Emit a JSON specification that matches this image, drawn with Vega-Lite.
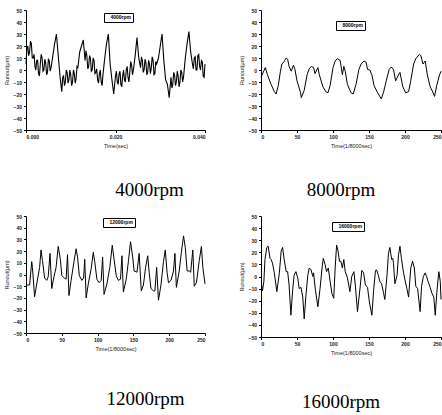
{
  "$schema": "https://vega.github.io/schema/vega-lite/v6.json",
  "background": "white",
  "padding": {"left": 4, "top": 8, "right": 2, "bottom": 2},
  "columns": 2,
  "spacing": {"row": 14, "column": 31},
  "config": {
    "view": {"stroke": null},
    "axis": {
      "labelFont": "Liberation Sans", "labelFontSize": 5, "labelFontWeight": "bold", "labelColor": "#222",
      "titleFont": "Liberation Sans", "titleFontSize": 5.5, "titleFontWeight": "normal", "titleColor": "#222",
      "domainColor": "black", "tickColor": "black", "tickSize": 2.5, "grid": false, "labelPadding": 2, "titlePadding": 4
    },
    "legend": {
      "orient": "none", "strokeColor": "black", "padding": 1.5, "labelFont": "Liberation Sans", "labelFontSize": 5,
      "labelFontWeight": "bold", "symbolSize": 0, "symbolStrokeWidth": 0, "symbolOpacity": 0, "labelOffset": 0, "title": null
    },
    "title": {"font": "Liberation Serif", "fontSize": 19, "fontWeight": "normal", "color": "black", "orient": "bottom", "offset": 32}
  },
  "resolve": {"scale": {"color": "independent", "x": "independent"}, "legend": {"color": "independent"}},
  "datasets": {
    "s4000": [
      {"t":0.0000,"r":5},{"t":0.0002,"r":18},{"t":0.0004,"r":20},{"t":0.0006,"r":12},{"t":0.0008,"r":15},
      {"t":0.0010,"r":24},{"t":0.0012,"r":22},{"t":0.0014,"r":10},{"t":0.0016,"r":10},{"t":0.0018,"r":13},
      {"t":0.0020,"r":3},{"t":0.0022,"r":0},{"t":0.0024,"r":8},{"t":0.0026,"r":8},{"t":0.0028,"r":-3},
      {"t":0.0030,"r":-5},{"t":0.0032,"r":5},{"t":0.0034,"r":13},{"t":0.0036,"r":10},{"t":0.0038,"r":-1},
      {"t":0.0040,"r":0},{"t":0.0042,"r":9},{"t":0.0044,"r":6},{"t":0.0046,"r":-4},{"t":0.0048,"r":-2},
      {"t":0.0050,"r":9},{"t":0.0052,"r":8},{"t":0.0054,"r":-1},{"t":0.0056,"r":2},{"t":0.0058,"r":7},
      {"t":0.0060,"r":12},{"t":0.0062,"r":17},{"t":0.0064,"r":22},{"t":0.0066,"r":26},{"t":0.0068,"r":30},
      {"t":0.0070,"r":21},{"t":0.0072,"r":12},{"t":0.0074,"r":3.5},{"t":0.0076,"r":-5},{"t":0.0078,"r":-12},
      {"t":0.0080,"r":-18},{"t":0.0082,"r":-6},{"t":0.0084,"r":-5},{"t":0.0086,"r":-13},{"t":0.0088,"r":-10},
      {"t":0.0090,"r":0},{"t":0.0092,"r":-2},{"t":0.0094,"r":-11},{"t":0.0096,"r":-8},{"t":0.0098,"r":0},
      {"t":0.0100,"r":-4},{"t":0.0102,"r":-13},{"t":0.0104,"r":-10},{"t":0.0106,"r":0},{"t":0.0108,"r":-3},
      {"t":0.0110,"r":-11},{"t":0.0112,"r":-7},{"t":0.0114,"r":3},{"t":0.0116,"r":2},{"t":0.0118,"r":8.5},
      {"t":0.0120,"r":15},{"t":0.0122,"r":17.5},{"t":0.0124,"r":20},{"t":0.0126,"r":22.5},{"t":0.0128,"r":25},
      {"t":0.0130,"r":16.5},{"t":0.0132,"r":8},{"t":0.0134,"r":16},{"t":0.0136,"r":12},{"t":0.0138,"r":1},
      {"t":0.0140,"r":3},{"t":0.0142,"r":12},{"t":0.0144,"r":10},{"t":0.0146,"r":-1},{"t":0.0148,"r":0},
      {"t":0.0150,"r":10},{"t":0.0152,"r":8},{"t":0.0154,"r":-3},{"t":0.0156,"r":-2},{"t":0.0158,"r":1},
      {"t":0.0160,"r":-8},{"t":0.0162,"r":-11},{"t":0.0164,"r":-3},{"t":0.0166,"r":0},{"t":0.0168,"r":-10},
      {"t":0.0170,"r":-13},{"t":0.0172,"r":-4},{"t":0.0174,"r":3},{"t":0.0176,"r":10},{"t":0.0178,"r":16},
      {"t":0.0180,"r":22},{"t":0.0182,"r":26},{"t":0.0184,"r":30},{"t":0.0186,"r":17.5},{"t":0.0188,"r":5},
      {"t":0.0190,"r":-1.5},{"t":0.0192,"r":-8},{"t":0.0194,"r":-14},{"t":0.0196,"r":-20},{"t":0.0198,"r":-12.5},
      {"t":0.0200,"r":-5},{"t":0.0202,"r":-1},{"t":0.0204,"r":-10},{"t":0.0206,"r":-12},{"t":0.0208,"r":-3},
      {"t":0.0210,"r":-1},{"t":0.0212,"r":-12},{"t":0.0214,"r":-14},{"t":0.0216,"r":-5},{"t":0.0218,"r":0},
      {"t":0.0220,"r":-8},{"t":0.0222,"r":-10},{"t":0.0224,"r":0},{"t":0.0226,"r":3},{"t":0.0228,"r":-6},
      {"t":0.0230,"r":-10},{"t":0.0232,"r":-2},{"t":0.0234,"r":7},{"t":0.0236,"r":4},{"t":0.0238,"r":-4},
      {"t":0.0240,"r":0},{"t":0.0242,"r":6},{"t":0.0244,"r":12},{"t":0.0246,"r":19.5},{"t":0.0248,"r":27},
      {"t":0.0250,"r":18.5},{"t":0.0252,"r":10},{"t":0.0254,"r":6},{"t":0.0256,"r":2},{"t":0.0258,"r":11},
      {"t":0.0260,"r":8},{"t":0.0262,"r":-2},{"t":0.0264,"r":0},{"t":0.0266,"r":9},{"t":0.0268,"r":6},
      {"t":0.0270,"r":-4},{"t":0.0272,"r":-2},{"t":0.0274,"r":8},{"t":0.0276,"r":5},{"t":0.0278,"r":-3},
      {"t":0.0280,"r":2},{"t":0.0282,"r":11},{"t":0.0284,"r":8},{"t":0.0286,"r":-4},{"t":0.0288,"r":-3},
      {"t":0.0290,"r":7},{"t":0.0292,"r":5},{"t":0.0294,"r":7.5},{"t":0.0296,"r":10},{"t":0.0298,"r":15},
      {"t":0.0300,"r":20},{"t":0.0302,"r":25},{"t":0.0304,"r":30},{"t":0.0306,"r":19},{"t":0.0308,"r":8},
      {"t":0.0310,"r":0},{"t":0.0312,"r":-8},{"t":0.0314,"r":-10},{"t":0.0316,"r":-12},{"t":0.0318,"r":-17.5},
      {"t":0.0320,"r":-23},{"t":0.0322,"r":-14.5},{"t":0.0324,"r":-6},{"t":0.0326,"r":-15},{"t":0.0328,"r":-12},
      {"t":0.0330,"r":-2},{"t":0.0332,"r":-4},{"t":0.0334,"r":-13},{"t":0.0336,"r":-10},{"t":0.0338,"r":-1},
      {"t":0.0340,"r":-5},{"t":0.0342,"r":-14},{"t":0.0344,"r":-10},{"t":0.0346,"r":0},{"t":0.0348,"r":-2},
      {"t":0.0350,"r":-10},{"t":0.0352,"r":-6},{"t":0.0354,"r":2},{"t":0.0356,"r":10},{"t":0.0358,"r":16},
      {"t":0.0360,"r":22},{"t":0.0362,"r":27},{"t":0.0364,"r":32},{"t":0.0366,"r":23.5},{"t":0.0368,"r":15},
      {"t":0.0370,"r":10},{"t":0.0372,"r":5},{"t":0.0374,"r":1},{"t":0.0376,"r":10},{"t":0.0378,"r":11},
      {"t":0.0380,"r":0},{"t":0.0382,"r":0},{"t":0.0384,"r":12},{"t":0.0386,"r":13},{"t":0.0388,"r":3},
      {"t":0.0390,"r":0},{"t":0.0392,"r":8},{"t":0.0394,"r":7},{"t":0.0396,"r":-5},{"t":0.0398,"r":-6},
      {"t":0.0400,"r":5}
    ],
    "s8000": [
      {"t":0,"r":-6},{"t":6,"r":2},{"t":9,"r":-4},{"t":14,"r":-12},{"t":18.5,"r":-18},{"t":21,"r":-20},
      {"t":24,"r":-13},{"t":27,"r":-1},{"t":29,"r":5},{"t":32,"r":7},{"t":35,"r":10},{"t":37,"r":9},
      {"t":39,"r":3},{"t":42,"r":-1},{"t":45,"r":4},{"t":47,"r":1},{"t":50,"r":-9},{"t":55,"r":-19},
      {"t":56,"r":-23},{"t":60,"r":-17},{"t":64,"r":-4},{"t":67,"r":1},{"t":70,"r":3},{"t":73,"r":2},
      {"t":75,"r":-3},{"t":79,"r":2},{"t":81,"r":-4},{"t":86,"r":-14},{"t":90,"r":-18},{"t":93,"r":-19},
      {"t":96,"r":-13},{"t":100,"r":2},{"t":103,"r":7.5},{"t":106,"r":9.5},{"t":110,"r":8},{"t":113,"r":-4},
      {"t":115,"r":3},{"t":117,"r":-1},{"t":120,"r":-12},{"t":125,"r":-19},{"t":128,"r":-20},{"t":132,"r":-12},
      {"t":136,"r":0.5},{"t":139,"r":5},{"t":143,"r":7.5},{"t":146,"r":6.5},{"t":148,"r":0.5},{"t":151,"r":0},
      {"t":154,"r":-4},{"t":157,"r":-13},{"t":162,"r":-19},{"t":167,"r":-24},{"t":170,"r":-19},{"t":174,"r":-9},
      {"t":178,"r":0.5},{"t":181,"r":2.5},{"t":184,"r":0.5},{"t":187,"r":-9},{"t":191,"r":-4},{"t":193,"r":-2},
      {"t":197,"r":-14},{"t":201,"r":-19},{"t":205,"r":-18},{"t":208,"r":-9},{"t":212,"r":5},{"t":215,"r":9.5},
      {"t":220,"r":13},{"t":222,"r":12},{"t":225,"r":5},{"t":228,"r":7.5},{"t":231,"r":-4},{"t":235,"r":-14},
      {"t":238,"r":-17.5},{"t":241,"r":-22},{"t":244,"r":-13},{"t":248,"r":-4},{"t":250,"r":-1}
    ],
    "s12000": [
      {"t":1,"r":-9},{"t":5,"r":-9},{"t":8,"r":11},{"t":9,"r":6},{"t":12,"r":-19},{"t":15,"r":-8},
      {"t":19,"r":6},{"t":21,"r":21},{"t":23,"r":12},{"t":26,"r":-3},{"t":29,"r":-5},{"t":31,"r":-2},
      {"t":33.5,"r":18},{"t":36,"r":-12},{"t":39,"r":-2},{"t":42,"r":6},{"t":45,"r":24},{"t":48,"r":13},
      {"t":50,"r":-1},{"t":53.5,"r":-3},{"t":56,"r":-4},{"t":58,"r":17},{"t":60,"r":-18},{"t":63,"r":-5},
      {"t":67,"r":11},{"t":70,"r":22},{"t":72,"r":15},{"t":74.5,"r":-1},{"t":78,"r":-5},{"t":80.5,"r":-3},
      {"t":82,"r":13},{"t":84,"r":-20},{"t":87,"r":-8},{"t":91,"r":5},{"t":94,"r":19},{"t":96,"r":11},
      {"t":99,"r":-4},{"t":102,"r":-7},{"t":105,"r":-5},{"t":107,"r":15},{"t":109,"r":-17},{"t":113,"r":-8},
      {"t":117,"r":6},{"t":120.5,"r":25},{"t":123,"r":13},{"t":126,"r":-1},{"t":129,"r":-5},{"t":132,"r":-4},
      {"t":134,"r":16},{"t":136,"r":-15},{"t":140,"r":-4},{"t":143,"r":11},{"t":146,"r":28},{"t":149,"r":15},
      {"t":151,"r":3},{"t":155,"r":2},{"t":158,"r":18},{"t":161,"r":-14},{"t":164,"r":-9},{"t":167,"r":6},
      {"t":170,"r":16},{"t":172,"r":2},{"t":174.5,"r":-12},{"t":178,"r":-14},{"t":180,"r":-14},{"t":182.5,"r":6},
      {"t":185,"r":-22},{"t":188.5,"r":-9},{"t":192,"r":11},{"t":194.5,"r":21},{"t":197,"r":2},{"t":199,"r":-7},
      {"t":202.5,"r":-5},{"t":206,"r":3},{"t":208,"r":18},{"t":210,"r":-11},{"t":214,"r":3},{"t":217,"r":19},
      {"t":220,"r":33},{"t":222.5,"r":23},{"t":225,"r":3},{"t":228,"r":3},{"t":230,"r":2},{"t":233,"r":21},
      {"t":235,"r":-10},{"t":238,"r":-7},{"t":242,"r":12},{"t":245,"r":24},{"t":247,"r":6},{"t":250,"r":-8}
    ],
    "s16000": [
      {"t":1,"r":-7},{"t":2,"r":-12},{"t":4,"r":-4},{"t":5.5,"r":14},{"t":8,"r":24},{"t":10,"r":25},
      {"t":12.5,"r":15},{"t":14,"r":14},{"t":16,"r":11},{"t":18.5,"r":3},{"t":22,"r":-12.5},{"t":25.5,"r":3},
      {"t":28,"r":21},{"t":30,"r":24},{"t":32,"r":15},{"t":35,"r":4},{"t":37,"r":4},{"t":39,"r":-7},
      {"t":41.5,"r":-32},{"t":44,"r":-11},{"t":46,"r":1},{"t":48.5,"r":4},{"t":51,"r":-1},{"t":53,"r":-10},
      {"t":55.5,"r":-9},{"t":58,"r":-17},{"t":60,"r":-35},{"t":62.5,"r":-15},{"t":65,"r":1},{"t":67,"r":7},
      {"t":69.5,"r":5.5},{"t":72,"r":0},{"t":73,"r":3},{"t":75.5,"r":-11},{"t":79,"r":-25},{"t":82,"r":-10},
      {"t":85,"r":8},{"t":86.5,"r":15},{"t":89,"r":10},{"t":91,"r":4},{"t":93.5,"r":7},{"t":96,"r":-4},
      {"t":98.5,"r":-14},{"t":101,"r":-18},{"t":103,"r":7},{"t":105,"r":26},{"t":107,"r":21},{"t":109,"r":12.5},
      {"t":111,"r":12.5},{"t":113,"r":7},{"t":115,"r":14},{"t":117,"r":4},{"t":120,"r":-1},{"t":123.5,"r":-12.5},
      {"t":126,"r":0},{"t":129,"r":4},{"t":131,"r":-7},{"t":134,"r":-29},{"t":138,"r":-7},{"t":140,"r":5},
      {"t":142.5,"r":3},{"t":145,"r":-7},{"t":148,"r":-9},{"t":150.5,"r":-21},{"t":154,"r":-32},{"t":156.5,"r":-11},
      {"t":159,"r":5},{"t":160.5,"r":5.5},{"t":163,"r":1},{"t":165,"r":-4},{"t":167.5,"r":-6},{"t":170,"r":-13},
      {"t":172,"r":-19},{"t":175,"r":1},{"t":177,"r":19},{"t":179,"r":24},{"t":181.5,"r":14},{"t":183,"r":15},
      {"t":184,"r":11},{"t":186,"r":-6},{"t":189,"r":1},{"t":191,"r":18},{"t":193,"r":25},{"t":195,"r":15},
      {"t":198,"r":3},{"t":200,"r":-3},{"t":203,"r":-11},{"t":205,"r":-17},{"t":208,"r":7},{"t":210.5,"r":12.5},
      {"t":213,"r":7},{"t":215,"r":-8},{"t":217.5,"r":-10},{"t":221,"r":-29},{"t":223,"r":-8},{"t":225.5,"r":0},
      {"t":228,"r":3},{"t":230,"r":0},{"t":232,"r":-4},{"t":235,"r":-9},{"t":237.5,"r":-14},{"t":240,"r":-17},
      {"t":242,"r":-32},{"t":244.5,"r":-11},{"t":247,"r":4},{"t":249,"r":-4},{"t":250,"r":-19}
    ]
  },
  "concat": [
    {
      "width": 179, "height": 120,
      "data": {"name": "s4000"},
      "title": {"text": "4000rpm", "dx": 34},
      "mark": {"type": "line", "color": "black", "strokeWidth": 1.1},
      "encoding": {
        "x": {"field": "t", "type": "quantitative", "scale": {"domain": [0, 0.04], "nice": false},
              "axis": {"title": "Time(sec)", "values": [0, 0.02, 0.04], "format": ".3f"}},
        "y": {"field": "r", "type": "quantitative", "scale": {"domain": [-50, 50], "nice": false},
              "axis": {"title": "Runout(μm)", "values": [-50,-40,-30,-20,-10,0,10,20,30,40,50]}},
        "color": {"datum": "4000rpm", "scale": {"range": ["black"]},
                  "legend": {"legendX": 78, "legendY": 3}}
      }
    },
    {
      "width": 180, "height": 120,
      "data": {"name": "s8000"},
      "title": {"text": "8000rpm", "dx": -10},
      "mark": {"type": "line", "color": "black", "strokeWidth": 1},
      "encoding": {
        "x": {"field": "t", "type": "quantitative", "scale": {"domain": [0, 250], "nice": false},
              "axis": {"title": "Time(1/8000sec)", "values": [0, 50, 100, 150, 200, 250]}},
        "y": {"field": "r", "type": "quantitative", "scale": {"domain": [-50, 50], "nice": false},
              "axis": {"title": "Runout(μm)", "values": [-50,-40,-30,-20,-10,0,10,20,30,40,50]}},
        "color": {"datum": "8000rpm", "scale": {"range": ["black"]},
                  "legend": {"legendX": 75, "legendY": 11}}
      }
    },
    {
      "width": 179, "height": 117,
      "data": {"name": "s12000"},
      "title": {"text": "12000rpm", "dx": 30, "offset": 38},
      "mark": {"type": "line", "color": "black", "strokeWidth": 1},
      "encoding": {
        "x": {"field": "t", "type": "quantitative", "scale": {"domain": [0, 250], "nice": false},
              "axis": {"title": "Time(1/8000sec)", "values": [0, 50, 100, 150, 200, 250]}},
        "y": {"field": "r", "type": "quantitative", "scale": {"domain": [-50, 50], "nice": false},
              "axis": {"title": "Runout(μm)", "values": [-50,-40,-30,-20,-10,0,10,20,30,40,50]}},
        "color": {"datum": "12000rpm", "scale": {"range": ["black"]},
                  "legend": {"legendX": 77, "legendY": 2}}
      }
    },
    {
      "width": 180, "height": 121,
      "data": {"name": "s16000"},
      "title": {"text": "16000rpm", "dx": -10, "offset": 37},
      "mark": {"type": "line", "color": "black", "strokeWidth": 1},
      "encoding": {
        "x": {"field": "t", "type": "quantitative", "scale": {"domain": [0, 250], "nice": false},
              "axis": {"title": "Time(1/8000sec)", "values": [0, 50, 100, 150, 200, 250]}},
        "y": {"field": "r", "type": "quantitative", "scale": {"domain": [-50, 50], "nice": false},
              "axis": {"title": "Runout(μm)", "values": [-50,-40,-30,-20,-10,0,10,20,30,40,50]}},
        "color": {"datum": "16000rpm", "scale": {"range": ["black"]},
                  "legend": {"legendX": 71, "legendY": 6}}
      }
    }
  ]
}
